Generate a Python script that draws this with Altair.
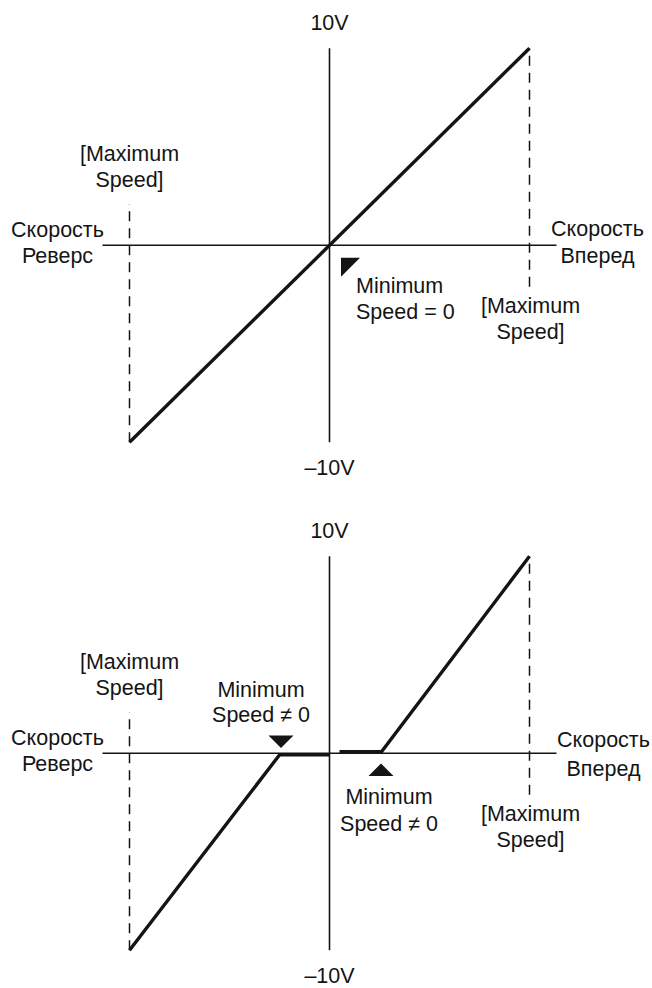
import altair as alt
import pandas as pd

FONT = "Liberation Sans"
INK = "#141414"
FONT_SIZE = 21.5

# Speed in % of maximum, reference in volts
max_speed = 100
v_ref = 10

# Upper diagram: minimum speed = 0 (straight line through the origin)
lin_speed = [-100, 100]
lin_volts = [-10, 10]

# Lower diagram: minimum speed != 0 (dead band around zero)
dead_speed = [-100, -25, 0, 5, 26, 100]
dead_volts = [-10, -0.08, -0.08, 0.08, 0.08, 10]
dead_branch = ["rev", "rev", "rev", "fwd", "fwd", "fwd"]

# Reach of the drawn axes and of the dashed max-speed guides
axis_half_len = 113.5
guide_reach = 2.1

W, H = 652, 490
X_DOM = [-164.75, 161.25]
Y_DOM = [-12.42, 12.45]


def xenc(field):
    return alt.X(field, type="quantitative",
                 scale=alt.Scale(domain=X_DOM, nice=False, zero=False), axis=None)


def yenc(field):
    return alt.Y(field, type="quantitative",
                 scale=alt.Scale(domain=Y_DOM, nice=False, zero=False), axis=None)


def axes_layers():
    axes = pd.DataFrame({
        "x": [-axis_half_len, 0], "x2": [axis_half_len, 0],
        "y": [0, -v_ref], "y2": [0, v_ref],
    })
    guides = pd.DataFrame({
        "x": [-max_speed, max_speed],
        "y": [-v_ref, -guide_reach], "y2": [guide_reach, v_ref],
    })
    solid = alt.Chart(axes).mark_rule(color=INK, strokeWidth=1.6).encode(
        x=xenc("x"), x2="x2", y=yenc("y"), y2="y2")
    dashed = alt.Chart(guides).mark_rule(color=INK, strokeWidth=1.5,
                                         strokeDash=[10, 7]).encode(
        x=xenc("x"), y=yenc("y"), y2="y2")
    return [solid, dashed]


def text_layer(rows, align="center"):
    df = pd.DataFrame(rows, columns=["label", "x", "y"])
    return alt.Chart(df).mark_text(
        font=FONT, fontSize=FONT_SIZE, color=INK, align=align, baseline="middle"
    ).encode(x=xenc("x"), y=yenc("y"), text="label")


def marker_layer(x, y, shape, size):
    df = pd.DataFrame({"x": [x], "y": [y]})
    return alt.Chart(df).mark_point(
        shape=shape, size=size, filled=True, color=INK, opacity=1, strokeWidth=0
    ).encode(x=xenc("x"), y=yenc("y"))


common_text = [
    ("10V", 0, 11.25),
    ("\u201310V", 0, -11.35),
    ("[Maximum", -100, 4.59),
    ("Speed]", -100, 3.27),
    ("[Maximum", 100.5, -3.15),
    ("Speed]", 100.5, -4.46),
    ("Скорость", -136, 0.72),
    ("Реверс", -136, -0.58),
]

# ---- upper diagram ----
lin_df = pd.DataFrame({"speed": lin_speed, "volts": lin_volts})
lin_line = alt.Chart(lin_df).mark_line(color=INK, strokeWidth=3.4).encode(
    x=xenc("speed"), y=yenc("volts"))

top = alt.layer(
    *axes_layers(),
    lin_line,
    marker_layer(10.5, -1.12, "M-1,-1 L1,-1 L-1,1 Z", 361),
    text_layer(common_text + [("Скорость", 134, 0.79), ("Вперед", 134, -0.58)]),
    text_layer([("Minimum", 13.25, -2.11), ("Speed = 0", 13.25, -3.43)], align="left"),
).properties(width=W, height=H)

# ---- lower diagram ----
dead_df = pd.DataFrame({"speed": dead_speed, "volts": dead_volts,
                        "branch": dead_branch, "order": list(range(len(dead_speed)))})
dead_line = alt.Chart(dead_df).mark_line(color=INK, strokeWidth=3.4).encode(
    x=xenc("speed"), y=yenc("volts"), detail="branch", order="order")

bottom = alt.layer(
    *axes_layers(),
    dead_line,
    marker_layer(-24.25, 0.58, "M-1,-0.5 L1,-0.5 L0,0.5 Z", 625),
    marker_layer(25.75, -0.84, "M-1,0.5 L1,0.5 L0,-0.5 Z", 625),
    text_layer(common_text + [
        ("Скорость", 137, 0.61), ("Вперед", 137, -0.86),
        ("Minimum", -34.25, 3.15), ("Speed \u2260 0", -34.25, 1.88),
        ("Minimum", 29.75, -2.28), ("Speed \u2260 0", 29.75, -3.65),
    ]),
).properties(width=W, height=H)

chart = alt.vconcat(top, bottom, spacing=18, bounds="flush").properties(
    padding=0, background="white"
).configure_view(stroke=None)

chart.save("out.html", embed_options={"renderer": "svg", "actions": False})
